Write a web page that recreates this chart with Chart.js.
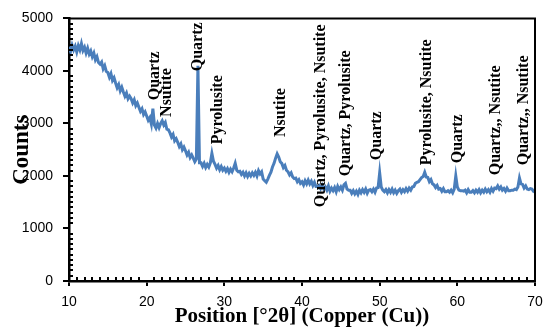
<!DOCTYPE html>
<html>
<head>
<meta charset="utf-8">
<script src="https://cdn.jsdelivr.net/npm/chart.js@4"></script>
<style>
  html, body { margin: 0; padding: 0; background: #fff; }
  #wrap { width: 543px; height: 327px; position: relative; }
</style>
</head>
<body>
<div id="wrap"><canvas id="c" width="543" height="327"></canvas></div>
<script>
// ---- Data ----
const scanStart = 10;      // °2θ
const scanStep = 0.2;      // °2θ per sample
const counts = [
  4460, 4370, 4490, 4400, 4470,
  4360, 4480, 4400, 4520, 4390,
  4450, 4340, 4430, 4320, 4380,
  4270, 4340, 4210, 4270, 4160,
  4130, 4170, 4040, 4100, 3990,
  3970, 3880, 3950, 3820, 3870,
  3770, 3680, 3740, 3620, 3690,
  3600, 3520, 3580, 3470, 3520,
  3470, 3390, 3450, 3340, 3390,
  3310, 3230, 3280, 3170, 3220,
  3140, 3060, 3110, 2990, 3280,
  2970, 2910, 3000, 2920, 3000,
  3050, 2970, 3020, 2890, 2880,
  2820, 2740, 2790, 2670, 2710,
  2640, 2560, 2610, 2500, 2550,
  2480, 2400, 2450, 2350, 2400,
  2340, 2270, 2320, 4100, 2250,
  2250, 2180, 2240, 2160, 2220,
  2170, 2250, 2430, 2280, 2220,
  2150, 2200, 2120, 2180, 2110,
  2150, 2090, 2140, 2070, 2130,
  2080, 2150, 2240, 2110, 2080,
  2090, 2030, 2070, 2000, 2060,
  1990, 2050, 2000, 2060, 2010,
  2070, 2000, 2100, 2040, 2080,
  1940, 1910, 1880, 1940, 2010,
  2070, 2170, 2240, 2340, 2420,
  2360, 2270, 2240, 2160, 2200,
  2110, 2080, 2020, 2060, 1980,
  1950, 1960, 1890, 1930, 1860,
  1890, 1830, 1910, 1850, 1920,
  1850, 1900, 1820, 1880, 1800,
  1800, 1820, 1760, 1820, 1750,
  1790, 1730, 1810, 1710, 1770,
  1720, 1780, 1700, 1800, 1740,
  1790, 1730, 1830, 1860, 1750,
  1730, 1730, 1670, 1720, 1660,
  1710, 1650, 1730, 1680, 1740,
  1690, 1750, 1670, 1730, 1740,
  1700, 1750, 1690, 1770, 1780,
  2060, 1790, 1730, 1700, 1740,
  1680, 1740, 1690, 1750, 1680,
  1730, 1670, 1720, 1750, 1690,
  1740, 1700, 1760, 1710, 1770,
  1730, 1790, 1800, 1860, 1880,
  1890, 1930, 1970, 1990, 2070,
  1980, 1970, 1890, 1930, 1850,
  1830, 1780, 1820, 1750, 1760,
  1710, 1760, 1700, 1700, 1720,
  1690, 1730, 1680, 1750, 2000,
  1790, 1730, 1720, 1720, 1710,
  1730, 1680, 1740, 1690, 1690,
  1720, 1680, 1730, 1690, 1740,
  1680, 1730, 1690, 1750, 1700,
  1740, 1690, 1760, 1710, 1770,
  1760, 1810, 1750, 1790, 1730,
  1760, 1710, 1770, 1720, 1720,
  1730, 1730, 1750, 1740, 1790,
  1960, 1850, 1840, 1770, 1810,
  1750, 1740, 1760, 1750, 1710,
  1730
];

// Axis tick values
const xTicks = [10, 20, 30, 40, 50, 60, 70];
const yTicks = [0, 1000, 2000, 3000, 4000, 5000];

// Phase annotations: text, position (°2θ), count where the text starts
const peakLabels = [
  "Quartz", "Nsutite", "Quartz", "Pyrolusite", "Nsutite",
  "Quartz, Pyrolusite, Nsutite", "Quartz, Pyrolusite", "Quartz",
  "Pyrolusite, Nsutite", "Quartz", "Quartz,, Nsutite", "Quartz,, Nsutite"
];
const peakLabelX = [21.07, 22.57, 26.64, 29.18, 37.3, 42.4, 45.65, 49.6, 56.07, 60.06, 64.96, 68.56];
const peakLabelY = [3442, 3124, 3994, 2604, 2743, 1404, 1994, 2300, 2204, 2242, 2013, 2204];

// ---- Build points ----
const points = counts.map((v, i) => ({ x: +(scanStart + i * scanStep).toFixed(2), y: v }));

const LINE_COLOR = '#4a7ebb';

const framePlugin = {
  id: 'frame',
  afterDraw(chart) {
    const { ctx, chartArea: a, scales } = chart;
    const xs = scales.x, ys = scales.y;
    ctx.save();
    ctx.strokeStyle = '#000';
    ctx.lineWidth = 2;
    ctx.beginPath();
    ctx.moveTo(a.left, a.top);
    ctx.lineTo(a.right, a.top);
    ctx.lineTo(a.right, a.bottom);
    ctx.stroke();
    ctx.beginPath();
    for (let v = 100; v < 5000; v += 100) {
      if (v % 1000 === 0) continue;
      const py = Math.round(ys.getPixelForValue(v));
      ctx.moveTo(a.left, py);
      ctx.lineTo(a.left + 4, py);
    }
    for (let v = 11; v < 70; v += 1) {
      if (v % 10 === 0) continue;
      const px = Math.round(xs.getPixelForValue(v));
      ctx.moveTo(px, a.bottom);
      ctx.lineTo(px, a.bottom - 4);
    }
    ctx.stroke();
    ctx.restore();
  },
  afterDatasetsDraw(chart) {
    const { ctx, scales } = chart;
    ctx.save();
    ctx.fillStyle = '#000';
    ctx.font = 'bold 16px "Liberation Serif"';
    ctx.textAlign = 'left';
    ctx.textBaseline = 'middle';
    peakLabels.forEach((t, i) => {
      const px = scales.x.getPixelForValue(peakLabelX[i]);
      const py = scales.y.getPixelForValue(peakLabelY[i]);
      ctx.save();
      ctx.translate(px, py);
      ctx.rotate(-Math.PI / 2);
      ctx.fillText(t, 0, 0);
      ctx.restore();
    });
    ctx.restore();
  }
};

new Chart(document.getElementById('c'), {
  type: 'line',
  data: {
    datasets: [{
      data: points,
      borderColor: LINE_COLOR,
      borderWidth: 3,
      pointRadius: 0,
      tension: 0,
      fill: false
    }]
  },
  options: {
    responsive: false,
    animation: false,
    parsing: false,
    layout: { padding: { left: 0, right: 0, top: 18, bottom: 0 } },
    plugins: { legend: { display: false }, tooltip: { enabled: false } },
    scales: {
      x: {
        type: 'linear',
        min: 10, max: 70,
        afterBuildTicks(s) { s.ticks = xTicks.map(v => ({ value: v })); },
        afterFit(s) { s.height = 46; s.paddingRight = 8; s.paddingLeft = 0; },
        ticks: {
          color: '#000',
          font: { family: '"Liberation Sans", Arial', size: 14 },
          padding: 8,
          maxRotation: 0,
          callback: v => String(v)
        },
        grid: { display: true, drawOnChartArea: false, drawTicks: true, tickLength: 5, color: '#000', lineWidth: 2 },
        border: { display: true, color: '#000', width: 2.5 },
        title: {
          display: true,
          text: 'Position [°2θ] (Copper (Cu))',
          color: '#000',
          font: { family: '"Liberation Serif", "Times New Roman"', size: 21, weight: 'bold', lineHeight: 1 },
          padding: { top: 0, bottom: 0 }
        }
      },
      y: {
        min: 0, max: 5000,
        afterBuildTicks(s) { s.ticks = yTicks.map(v => ({ value: v })); },
        afterFit(s) { s.width = 69; },
        ticks: {
          color: '#000',
          font: { family: '"Liberation Sans", Arial', size: 14 },
          padding: 10,
          callback: v => String(v)
        },
        grid: { display: true, drawOnChartArea: false, drawTicks: true, tickLength: 6, color: '#000', lineWidth: 2 },
        border: { display: true, color: '#000', width: 2.5 },
        title: {
          display: true,
          text: 'Counts',
          color: '#000',
          font: { family: '"Liberation Serif", "Times New Roman"', size: 23, weight: 'bold' },
          padding: { top: 8, bottom: 0 }
        }
      }
    }
  },
  plugins: [framePlugin]
});
</script>
</body>
</html>
